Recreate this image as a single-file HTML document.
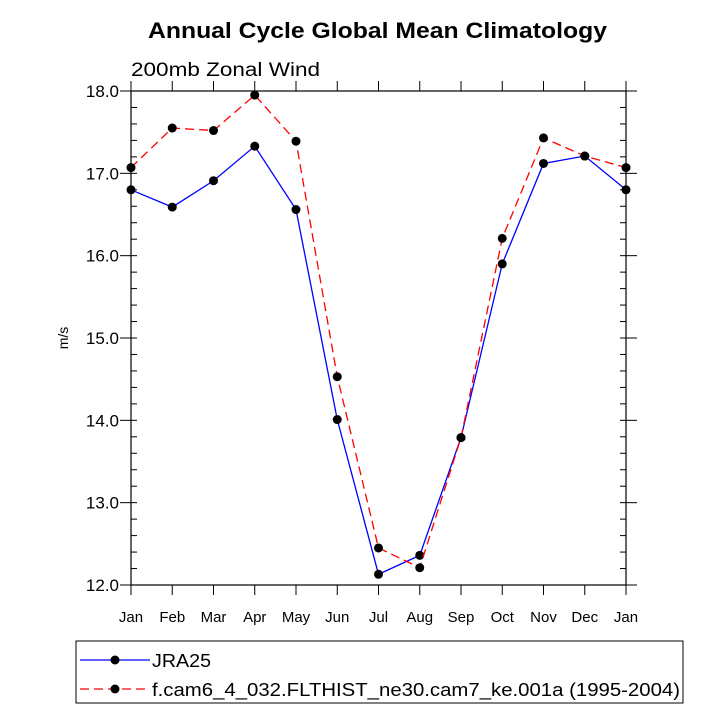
<!DOCTYPE html>
<html><head><meta charset="utf-8"><style>body{margin:0;background:#fff}svg{display:block;font-family:"Liberation Sans",sans-serif}</style></head>
<body>
<svg id="c" width="727" height="727" viewBox="0 0 727 727">
<text x="148" y="38" font-size="22" font-weight="bold" textLength="459" lengthAdjust="spacingAndGlyphs">Annual Cycle Global Mean Climatology</text>
<text x="131" y="76" font-size="19" textLength="189" lengthAdjust="spacingAndGlyphs">200mb Zonal Wind</text>
<text transform="translate(68,338) rotate(-90)" text-anchor="middle" font-size="14">m/s</text>
<g id="axes"></g>
<g id="series"></g>
<rect x="76" y="641" width="607" height="62" fill="none" stroke="#000" stroke-width="1"/>
<g>
<line x1="80" y1="660" x2="150" y2="660" stroke="#0000ff" stroke-width="1.3"/>
<circle cx="115" cy="660" r="4.5"/>
<text x="152" y="667" font-size="18" textLength="59" lengthAdjust="spacingAndGlyphs">JRA25</text></g>
<g>
<line x1="80" y1="689" x2="150" y2="689" stroke="#ff0000" stroke-width="1.3" stroke-dasharray="9,5"/>
<circle cx="115" cy="689" r="4.5"/>
<text x="152" y="696" font-size="18" textLength="528" lengthAdjust="spacingAndGlyphs">f.cam6_4_032.FLTHIST_ne30.cam7_ke.001a (1995-2004)</text></g>
</svg>
<script>
const months=["Jan","Feb","Mar","Apr","May","Jun","Jul","Aug","Sep","Oct","Nov","Dec","Jan"];
const yTicks=["12.0","13.0","14.0","15.0","16.0","17.0","18.0"];
const jra25=[16.80,16.59,16.91,17.33,16.56,14.01,12.13,12.36,13.79,15.90,17.12,17.21,16.80];
const cam=[17.07,17.55,17.52,17.95,17.39,14.53,12.45,12.21,13.79,16.21,17.43,17.21,17.07];
const NS="http://www.w3.org/2000/svg";
const X0=131,X1=626,Y0=585,Y1=91,ymin=12,ymax=18;
const xs=i=>X0+(X1-X0)*i/(months.length-1);
const ys=v=>Y0-(Y0-Y1)*(v-ymin)/(ymax-ymin);
function mk(t,a,p){const e=document.createElementNS(NS,t);for(const k in a)e.setAttribute(k,a[k]);p.appendChild(e);return e;}
const ax=document.getElementById('axes');
const frame=mk('rect',{x:X0,y:Y1,width:X1-X0,height:Y0-Y1,fill:'none',stroke:'#000','stroke-width':1.2},ax);


months.forEach((m,i)=>{const x=xs(i);
mk('line',{x1:x,y1:Y0,x2:x,y2:Y0+10,stroke:'#000'},ax);
mk('line',{x1:x,y1:Y1,x2:x,y2:Y1-10,stroke:'#000'},ax);
const t=mk('text',{x:x,y:Y0+37,'text-anchor':'middle','font-size':15},ax);t.textContent=m;

});
yTicks.forEach(s=>{const v=parseFloat(s),y=ys(v);
mk('line',{x1:X0,y1:y,x2:X0-11,y2:y,stroke:'#000'},ax);
mk('line',{x1:X1,y1:y,x2:X1+11,y2:y,stroke:'#000'},ax);
const t=mk('text',{x:X0-12,y:y+6,'text-anchor':'end','font-size':17},ax);t.textContent=s;

});
for(let v=ymin;v<ymax;v+=0.2){const y=ys(v);
mk('line',{x1:X0,y1:y,x2:X0+6,y2:y,stroke:'#000'},ax);
mk('line',{x1:X1,y1:y,x2:X1-6,y2:y,stroke:'#000'},ax);}
const sg=document.getElementById('series');
function series(d,col,dash,name){const g=mk('g',{},sg);


const p=mk('polyline',{points:d.map((v,i)=>xs(i)+','+ys(v)).join(' '),fill:'none',stroke:col,'stroke-width':1.3},g);
if(dash)p.setAttribute('stroke-dasharray',dash);
d.forEach((v,i)=>{const c=mk('circle',{cx:xs(i),cy:ys(v),r:4.5,fill:'#000'},g);

});}
series(jra25,'#0000ff',null,'jra25-line');
series(cam,'#ff0000','9,5','cam-line');
</script>
</body></html>
